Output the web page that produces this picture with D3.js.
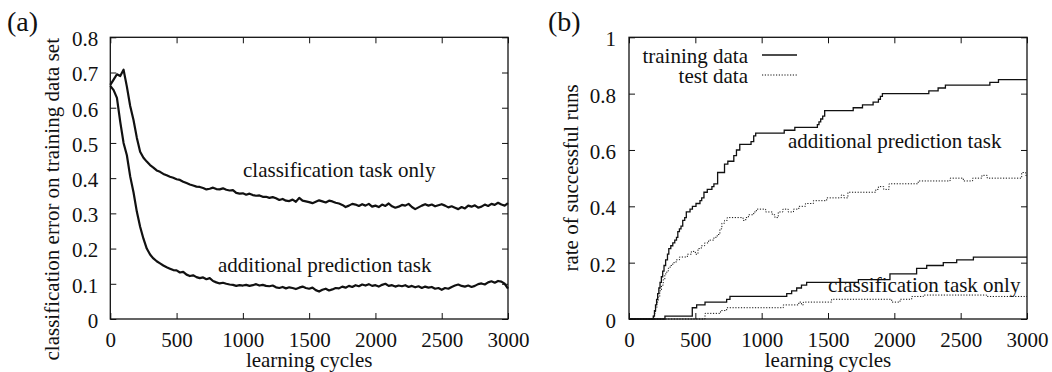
<!DOCTYPE html>
<html>
<head>
<meta charset="utf-8">
<script src="https://cdn.jsdelivr.net/npm/d3@7"></script>
</head>
<body style="margin:0">
<div id="canvas-div"></div>
<script>
// ---- data: panel (a), classification error, sampled every 25 cycles ----
const cyclesA = d3.range(0, 3001, 25);

const errClassOnly = [
  0.665, 0.68, 0.695, 0.69, 0.708, 0.66, 0.605, 0.565, 0.515, 0.475, 0.458, 0.447, 0.437,
  0.43, 0.422, 0.418, 0.412, 0.408, 0.404, 0.401, 0.397, 0.395, 0.39, 0.386, 0.382,
  0.379, 0.376, 0.375, 0.372, 0.368, 0.37, 0.373, 0.369, 0.368, 0.371, 0.367, 0.365,
  0.366, 0.358, 0.356, 0.357, 0.353, 0.356, 0.352, 0.35, 0.351, 0.347, 0.347, 0.344,
  0.346, 0.343, 0.338, 0.341, 0.336, 0.335, 0.339, 0.333, 0.344, 0.336, 0.334, 0.332,
  0.329, 0.333, 0.337, 0.334, 0.331, 0.336, 0.334, 0.33, 0.328, 0.324, 0.318, 0.322,
  0.327, 0.325, 0.321, 0.326, 0.322, 0.327, 0.319, 0.322, 0.318, 0.325, 0.321, 0.328,
  0.32, 0.316, 0.319, 0.324, 0.322, 0.327, 0.318, 0.312, 0.317, 0.322, 0.326, 0.322,
  0.325, 0.32, 0.323, 0.326, 0.322, 0.317, 0.32, 0.316, 0.312, 0.318, 0.314, 0.322,
  0.319, 0.323, 0.316, 0.319, 0.325, 0.321, 0.327, 0.324, 0.33, 0.325, 0.322, 0.329
];

const errWithPrediction = [
  0.662, 0.65, 0.628, 0.56, 0.5, 0.465, 0.405, 0.36, 0.305, 0.262, 0.228, 0.2, 0.183,
  0.172, 0.164, 0.158, 0.152, 0.147, 0.143, 0.139, 0.138, 0.132, 0.134, 0.126, 0.122,
  0.124, 0.119, 0.116, 0.118, 0.113, 0.116, 0.108, 0.104, 0.101, 0.103, 0.1, 0.098,
  0.097, 0.094, 0.096, 0.095, 0.097, 0.094, 0.096, 0.099, 0.095, 0.097, 0.094, 0.093,
  0.095, 0.09, 0.088, 0.091, 0.087, 0.09, 0.088, 0.085, 0.089, 0.092, 0.088, 0.086,
  0.089, 0.082, 0.078, 0.083, 0.086, 0.081, 0.084, 0.088, 0.087, 0.092, 0.089, 0.094,
  0.091, 0.096, 0.093, 0.098, 0.095, 0.099, 0.094, 0.096, 0.092, 0.097, 0.1, 0.094,
  0.096, 0.092, 0.095, 0.093, 0.096, 0.091, 0.094, 0.09, 0.093, 0.088, 0.092, 0.089,
  0.091, 0.086, 0.088, 0.083, 0.088, 0.086, 0.091, 0.095, 0.098, 0.094, 0.092, 0.095,
  0.091, 0.094, 0.099, 0.101, 0.098, 0.104, 0.107, 0.103, 0.108, 0.106, 0.1, 0.086
];

// ---- data: panel (b), rate of successful runs (step changes) ----
const trainPredCycles = [0, 183, 192, 200, 208, 216, 225, 234, 244, 254, 264, 276, 290, 300, 315, 330,
  345, 358, 368, 380, 392, 405, 420, 432, 460, 478, 505, 535, 548, 565, 590, 625, 640, 668, 720,
  745, 790, 810, 835, 920, 940, 955, 1170, 1250, 1420, 1432, 1445, 1460, 1475, 1690, 1760, 1840,
  1880, 1895, 1910, 2260, 2330, 2385, 2720, 2785, 3000];
const trainPredRate = [0, 0.01, 0.03, 0.05, 0.07, 0.09, 0.11, 0.13, 0.15, 0.17, 0.19, 0.21, 0.23, 0.25,
  0.26, 0.27, 0.28, 0.29, 0.31, 0.32, 0.33, 0.35, 0.36, 0.38, 0.39, 0.40, 0.41, 0.42, 0.43, 0.45,
  0.46, 0.47, 0.48, 0.52, 0.55, 0.56, 0.58, 0.60, 0.62, 0.63, 0.65, 0.66, 0.67, 0.68, 0.69, 0.70,
  0.71, 0.72, 0.74, 0.75, 0.76, 0.77, 0.78, 0.79, 0.80, 0.81, 0.82, 0.83, 0.84, 0.85, 0.85];

const testPredCycles = [0, 190, 200, 210, 220, 232, 245, 258, 270, 285, 296, 310, 330, 355, 380, 440,
  470, 500, 520, 545, 570, 600, 640, 665, 685, 700, 720, 740, 860, 880, 900, 940, 960, 1030, 1080,
  1100, 1125, 1160, 1200, 1240, 1280, 1330, 1390, 1490, 1600, 1620, 1650, 1860, 1880, 1920, 1960,
  2180, 2420, 2520, 2590, 2660, 2700, 2960, 2990, 3000];
const testPredRate = [0, 0.02, 0.04, 0.06, 0.08, 0.10, 0.12, 0.14, 0.16, 0.17, 0.18, 0.19, 0.20, 0.21,
  0.22, 0.23, 0.24, 0.23, 0.25, 0.26, 0.27, 0.28, 0.29, 0.30, 0.32, 0.34, 0.35, 0.36, 0.35, 0.36,
  0.37, 0.38, 0.39, 0.38, 0.37, 0.36, 0.38, 0.39, 0.38, 0.39, 0.40, 0.41, 0.42, 0.43, 0.44, 0.43,
  0.45, 0.46, 0.47, 0.46, 0.48, 0.49, 0.50, 0.49, 0.50, 0.51, 0.50, 0.52, 0.51, 0.51];

const trainClassCycles = [0, 271, 477, 510, 573, 736, 761, 1189, 1226, 1264, 1300, 1339, 1729, 1967,
  2168, 2244, 2369, 2470, 2596, 3000];
const trainClassRate = [0, 0.01, 0.04, 0.05, 0.06, 0.07, 0.08, 0.09, 0.10, 0.11, 0.12, 0.13, 0.14,
  0.16, 0.18, 0.19, 0.20, 0.21, 0.22, 0.22];

const testClassCycles = [0, 573, 690, 736, 1163, 1280, 1300, 1314, 1527, 1980, 2043, 2131, 2219,
  2696, 3000];
const testClassRate = [0, 0.02, 0.03, 0.04, 0.05, 0.06, 0.05, 0.06, 0.07, 0.06, 0.07, 0.08, 0.085,
  0.08, 0.08];

const xTicks = [0, 500, 1000, 1500, 2000, 2500, 3000];
const yTicksA = [0, 0.1, 0.2, 0.3, 0.4, 0.5, 0.6, 0.7, 0.8];
const yTicksB = [0, 0.2, 0.4, 0.6, 0.8, 1];

const width = 1052, height = 372;
const tickLen = 6;
const serifFont = "'Liberation Serif'";

let svg = d3.select("#canvas-div")
  .append("svg")
  .attr("width", width)
  .attr("height", height)
  .style("display", "block");

function zip(xs, ys) {
  return xs.map((x, i) => ({ x: x, y: ys[i] }));
}

function addText(x, y, str, size, anchor) {
  return svg.append("text")
    .attr("x", x).attr("y", y)
    .style("font-family", serifFont)
    .style("font-size", size + "px")
    .style("text-anchor", anchor || "start")
    .style("fill", "#111")
    .text(str);
}

function styleAxis(g, dy) {
  g.select(".domain").remove();
  g.selectAll("line").attr("stroke", "#111");
  g.selectAll("text")
    .attr("dy", dy)
    .attr("fill", "#111")
    .style("font-family", serifFont)
    .style("font-size", "21px");
}

// draws frame, mirrored inward ticks and labels for one panel
function drawPanel(box, yMax, yTicks, yLabel, tag, tagX) {
  const xScale = d3.scaleLinear().domain([0, 3000]).range([box.left, box.right]);
  const yScale = d3.scaleLinear().domain([0, yMax]).range([box.bottom, box.top]);
  const yFmt = d => d === 0 ? "0" : d === 1 ? "1" : d3.format(".1f")(d);

  svg.append("g")
    .attr("transform", "translate(0," + box.bottom + ")")
    .call(d3.axisBottom(xScale).tickValues(xTicks).tickSizeInner(-tickLen).tickSizeOuter(0)
      .tickPadding(13).tickFormat(d3.format("d")))
    .call(g => styleAxis(g, "0.71em"));

  svg.append("g")
    .attr("transform", "translate(0," + box.top + ")")
    .call(d3.axisTop(xScale).tickValues(xTicks).tickSizeInner(-tickLen).tickSizeOuter(0).tickFormat(""))
    .call(g => styleAxis(g, null));

  svg.append("g")
    .attr("transform", "translate(" + box.left + ",0)")
    .call(d3.axisLeft(yScale).tickValues(yTicks).tickSizeInner(-tickLen).tickSizeOuter(0)
      .tickPadding(box.yPad).tickFormat(yFmt))
    .call(g => styleAxis(g, "0.4em"));

  svg.append("g")
    .attr("transform", "translate(" + box.right + ",0)")
    .call(d3.axisRight(yScale).tickValues(yTicks).tickSizeInner(-tickLen).tickSizeOuter(0).tickFormat(""))
    .call(g => styleAxis(g, null));

  svg.append("rect")
    .attr("x", box.left).attr("y", box.top)
    .attr("width", box.right - box.left).attr("height", box.bottom - box.top)
    .attr("fill", "none").attr("stroke", "#111").attr("stroke-width", 1.3);

  addText((box.left + box.right) / 2, 367, "learning cycles", 21, "middle");

  addText(0, 0, yLabel, 21, box.yLabelAnchor)
    .attr("transform", "translate(" + box.yLabelX + "," + box.yLabelY + ") rotate(-90)");

  addText(tagX, 31, tag, 28);

  return { x: xScale, y: yScale };
}

const boxA = { left: 110.3, right: 508, top: 37.3, bottom: 319, yPad: 12,
  yLabelX: 58.5, yLabelY: 38, yLabelAnchor: "end" };
const boxB = { left: 629, right: 1027, top: 37.3, bottom: 319, yPad: 13,
  yLabelX: 578, yLabelY: 178, yLabelAnchor: "middle" };

const scA = drawPanel(boxA, 0.8, yTicksA, "classification error on training data set", "(a)", 7);
const scB = drawPanel(boxB, 1, yTicksB, "rate of successful runs", "(b)", 548);

// panel (a) curves
const lineA = d3.line()
  .x(d => scA.x(d.x))
  .y(d => scA.y(d.y));

[errClassOnly, errWithPrediction].forEach(series => {
  svg.append("path")
    .datum(zip(cyclesA, series))
    .attr("d", lineA)
    .attr("fill", "none")
    .attr("stroke", "#111")
    .attr("stroke-width", 2.2)
    .attr("stroke-linejoin", "round");
});

addText(243, 176.5, "classification task only", 21);
addText(218, 271.5, "additional prediction task", 21);

// panel (b) step curves
const lineB = d3.line()
  .curve(d3.curveStepAfter)
  .x(d => scB.x(d.x))
  .y(d => scB.y(d.y));

const stepSeries = [
  { data: zip(trainPredCycles, trainPredRate), dotted: false },
  { data: zip(testPredCycles, testPredRate), dotted: true },
  { data: zip(trainClassCycles, trainClassRate), dotted: false },
  { data: zip(testClassCycles, testClassRate), dotted: true }
];

stepSeries.forEach(s => {
  svg.append("path")
    .datum(s.data)
    .attr("d", lineB)
    .attr("fill", "none")
    .attr("stroke", "#111")
    .attr("stroke-width", s.dotted ? 1 : 1.3)
    .attr("stroke-dasharray", s.dotted ? "1.2,1.6" : null);
});

addText(788, 148.3, "additional prediction task", 21);
addText(828, 291.7, "classification task only", 21);

// legend
const legend = [
  { label: "training data", y: 55, dotted: false },
  { label: "test data", y: 75, dotted: true }
];
legend.forEach(item => {
  addText(748, item.y + 8.3, item.label, 21, "end");
  svg.append("line")
    .attr("x1", 762).attr("x2", 797)
    .attr("y1", item.y).attr("y2", item.y)
    .attr("stroke", "#111")
    .attr("stroke-width", item.dotted ? 1 : 1.3)
    .attr("stroke-dasharray", item.dotted ? "1.2,1.6" : null);
});
</script>
</body>
</html>
